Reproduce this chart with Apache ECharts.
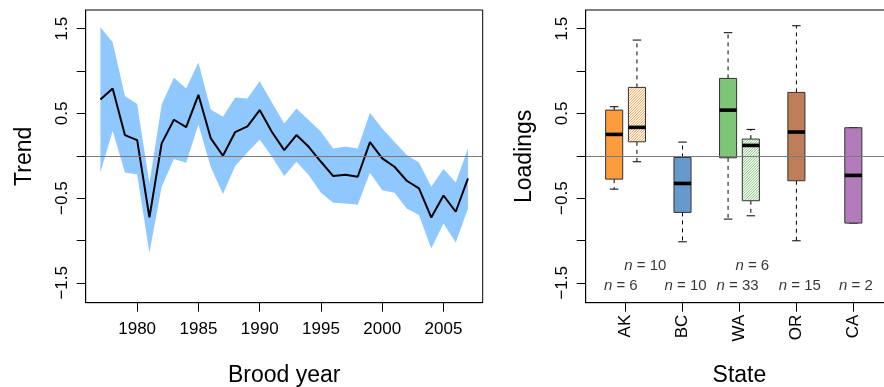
<!DOCTYPE html>
<html>
<head>
<meta charset="utf-8">
<script src="https://cdn.jsdelivr.net/npm/echarts@6/dist/echarts.min.js"></script>
<style>
html,body{margin:0;padding:0;background:#fff;}
#chart{width:884px;height:387px;}
</style>
</head>
<body>
<div id="chart"></div>
<script>
// ---- Left panel data ----
var years = [1977,1978,1979,1980,1981,1982,1983,1984,1985,1986,1987,1988,1989,1990,1991,1992,1993,1994,1995,1996,1997,1998,1999,2000,2001,2002,2003,2004,2005,2006,2007];
var trend = [0.665,0.795,0.244,0.185,-0.728,0.146,0.425,0.339,0.72,0.209,0.0,0.28,0.346,0.539,0.28,0.067,0.244,0.106,-0.071,-0.24,-0.224,-0.248,0.161,-0.031,-0.13,-0.295,-0.386,-0.728,-0.469,-0.661,-0.268];
var upper = [1.516,1.339,0.705,0.61,-0.327,0.606,0.921,0.795,1.102,0.547,0.46,0.689,0.677,0.88,0.63,0.382,0.559,0.421,0.283,0.087,0.11,0.087,0.508,0.323,0.165,0.008,-0.079,-0.366,-0.157,-0.315,0.087];
var lower = [-0.197,0.295,-0.197,-0.22,-1.146,-0.366,-0.039,-0.083,0.37,-0.13,-0.453,-0.122,0.039,0.193,-0.012,-0.24,-0.071,-0.228,-0.437,-0.555,-0.563,-0.579,-0.2,-0.406,-0.437,-0.622,-0.7,-1.094,-0.8,-1.024,-0.622];
var yearTicks = [1980,1985,1990,1995,2000,2005];
var yTicks = [-1.5,-1,-0.5,0,0.5,1,1.5];
var yTickLabels = [-1.5,-0.5,0.5,1.5];

// ---- Right panel data ----
var states = ['AK','BC','WA','OR','CA'];
var stateTicks = [1,2,3,4,5];
var boxPos  = [0.8, 1.2, 2, 2.8, 3.2, 4, 5];
var boxLow  = [-0.394,-0.071,-1.016,-0.748,-0.709,-1.004,-0.795];
var boxQ1   = [-0.276, 0.165,-0.669,-0.024,-0.531,-0.295,-0.795];
var boxMed  = [ 0.252, 0.335,-0.327, 0.539, 0.122, 0.28,-0.232];
var boxQ3   = [ 0.539, 0.807,-0.02, 0.913, 0.197, 0.748, 0.331];
var boxHigh = [ 0.579, 1.366, 0.161, 1.453, 0.311, 1.535, 0.331];
var boxHatched = [0,1,0,0,1,0,0];
var boxColor = ['#FB9C3E','#FB9C3E','#6699CC','#7DC677','#7DC677','#BE7D5B','#B27BBA'];
var nLabelX = [1.346, 0.916, 2.055, 2.967, 3.226, 4.061, 5.044];
var nLabelY = [-1.3, -1.54, -1.54, -1.54, -1.3, -1.54, -1.54];
var nLabelN = [10, 6, 10, 33, 6, 15, 2];

var FONT = "'Liberation Sans', Arial, Helvetica, sans-serif";
function fmtNum(v){ return v < 0 ? '\u2212' + Math.abs(v) : String(v); }

var chart = echarts.init(document.getElementById('chart'), null, {renderer:'canvas'});

function yAxisCommon(gridIndex, name){
  return {
    type:'value', gridIndex:gridIndex, min:-1.735, max:1.721,
    name:name, nameLocation:'middle', nameGap:50,
    nameTextStyle:{fontFamily:FONT, fontSize:23, color:'#000'},
    axisLine:{show:true, onZero:false, lineStyle:{color:'#000', width:1}},
    axisTick:{show:true, inside:false, length:9, lineStyle:{color:'#000'}, customValues:yTicks},
    axisLabel:{show:true, rotate:90, margin:15, fontFamily:FONT, fontSize:17, color:'#000',
      customValues:yTickLabels, formatter:function(v){return fmtNum(v);}},
    splitLine:{show:false}
  };
}

var bandData = years.map(function(y,i){ return [y, lower[i], upper[i]]; });

var option = {
  animation:false,
  backgroundColor:'#fff',
  grid:[
    {left:85.7, top:10, width:397, height:292.7, show:true, borderColor:'#000', borderWidth:1,
     backgroundColor:'transparent', containLabel:false, outerBoundsMode:'none'},
    {left:585.7, top:10, width:307.5, height:292.7, show:true, borderColor:'#000', borderWidth:1,
     backgroundColor:'transparent', containLabel:false, outerBoundsMode:'none'}
  ],
  xAxis:[
    {type:'value', gridIndex:0, min:1975.8, max:2008.2,
     name:'Brood year', nameLocation:'middle', nameGap:61,
     nameTextStyle:{fontFamily:FONT, fontSize:23, color:'#000'},
     axisLine:{show:true, onZero:false, lineStyle:{color:'#000'}},
     axisTick:{show:true, inside:false, length:9, lineStyle:{color:'#000'}, customValues:yearTicks},
     axisLabel:{show:true, margin:18, fontFamily:FONT, fontSize:17, color:'#000', customValues:yearTicks,
       formatter:function(v){ return String(v); }},
     splitLine:{show:false}},
    {type:'value', gridIndex:1, min:0.3, max:5.7,
     name:'State', nameLocation:'middle', nameGap:61,
     nameTextStyle:{fontFamily:FONT, fontSize:23, color:'#000'},
     axisLine:{show:true, onZero:false, lineStyle:{color:'#000'}},
     axisTick:{show:true, inside:false, length:9, lineStyle:{color:'#000'}, customValues:stateTicks},
     axisLabel:{show:true, rotate:90, margin:12, fontFamily:FONT, fontSize:17, color:'#000', customValues:stateTicks,
       formatter:function(v){ return states[Math.round(v)-1] || ''; }},
     splitLine:{show:false}}
  ],
  yAxis:[ yAxisCommon(0,'Trend'), yAxisCommon(1,'Loadings') ],
  series:[
    { // confidence band
      type:'custom', xAxisIndex:0, yAxisIndex:0, silent:true, z:1,
      data: bandData,
      renderItem:function(params, api){
        if (params.dataIndex !== 0) return null;
        var pts = [];
        for (var i=0;i<bandData.length;i++) pts.push(api.coord([bandData[i][0], bandData[i][2]]));
        for (var j=bandData.length-1;j>=0;j--) pts.push(api.coord([bandData[j][0], bandData[j][1]]));
        return {type:'polygon', shape:{points:pts}, style:{fill:'#8FC8FF', stroke:null}};
      }
    },
    { // trend line
      type:'line', xAxisIndex:0, yAxisIndex:0, z:3,
      data: years.map(function(y,i){ return [y, trend[i]]; }),
      showSymbol:false, symbol:'none',
      lineStyle:{color:'#000', width:2},
      markLine:{silent:true, symbol:'none', label:{show:false},
        lineStyle:{color:'#7a7a7a', width:1, type:'solid'},
        data:[{yAxis:0}]}
    },
    { // zero line right
      type:'line', xAxisIndex:1, yAxisIndex:1, z:1, data:[],
      markLine:{silent:true, symbol:'none', label:{show:false},
        lineStyle:{color:'#7a7a7a', width:1, type:'solid'},
        data:[{yAxis:0}]}
    },
    { // boxplots
      type:'custom', xAxisIndex:1, yAxisIndex:1, z:3,
      data: boxPos.map(function(p,i){ return [p, boxLow[i], boxQ1[i], boxMed[i], boxQ3[i], boxHigh[i], boxHatched[i], i]; }),
      renderItem:function(params, api){
        var x = api.value(0), lo = api.value(1), q1 = api.value(2), md = api.value(3), q3 = api.value(4), hi = api.value(5);
        var hatch = api.value(6), idx = api.value(7);
        var col = boxColor[idx];
        var hw = 0.15;
        var pTL = api.coord([x-hw, q3]), pBR = api.coord([x+hw, q1]);
        var x0 = pTL[0], y0 = pTL[1], x1 = pBR[0], y1 = pBR[1];
        var cx = api.coord([x, 0])[0];
        var pHi = api.coord([x, hi])[1], pLo = api.coord([x, lo])[1];
        var capHalf = (x1-x0)/4;
        var children = [];
        children.push({type:'line', shape:{x1:cx, y1:y0, x2:cx, y2:pHi}, style:{stroke:'#000', lineWidth:1, lineDash:[4,4]}});
        children.push({type:'line', shape:{x1:cx, y1:y1, x2:cx, y2:pLo}, style:{stroke:'#000', lineWidth:1, lineDash:[4,4]}});
        children.push({type:'line', shape:{x1:cx-capHalf, y1:pHi, x2:cx+capHalf, y2:pHi}, style:{stroke:'#000', lineWidth:1}});
        children.push({type:'line', shape:{x1:cx-capHalf, y1:pLo, x2:cx+capHalf, y2:pLo}, style:{stroke:'#000', lineWidth:1}});
        children.push({type:'rect', shape:{x:x0, y:y0, width:x1-x0, height:y1-y0},
          style:{fill: hatch ? '#fff' : col, stroke:null}});
        if (hatch) {
          var s = 2.6;
          for (var c = x0 + y0 + s/2; c < x1 + y1; c += s) {
            var xa = Math.max(x0, c - y1), xb = Math.min(x1, c - y0);
            if (xb > xa) children.push({type:'line', shape:{x1:xa, y1:c-xa, x2:xb, y2:c-xb}, style:{stroke:col, lineWidth:1}});
          }
        }
        children.push({type:'rect', shape:{x:x0, y:y0, width:x1-x0, height:y1-y0},
          style:{fill:null, stroke:'#333', lineWidth:1}});
        var pm = api.coord([x, md])[1];
        children.push({type:'line', shape:{x1:x0, y1:pm, x2:x1, y2:pm}, style:{stroke:'#000', lineWidth:3.6}});
        return {type:'group', children:children};
      }
    },
    { // n labels
      type:'scatter', xAxisIndex:1, yAxisIndex:1, z:4, silent:true,
      symbolSize:0,
      data: nLabelX.map(function(x,i){ return [x, nLabelY[i], nLabelN[i]]; }),
      label:{show:true, position:'inside', color:'#000', fontFamily:FONT, fontSize:15,
        formatter:function(p){ return '{i|n} = ' + p.value[2]; },
        rich:{i:{fontStyle:'italic', fontFamily:FONT, fontSize:15, color:'#000'}}}
    }
  ]
};
chart.setOption(option);
</script>
</body>
</html>
